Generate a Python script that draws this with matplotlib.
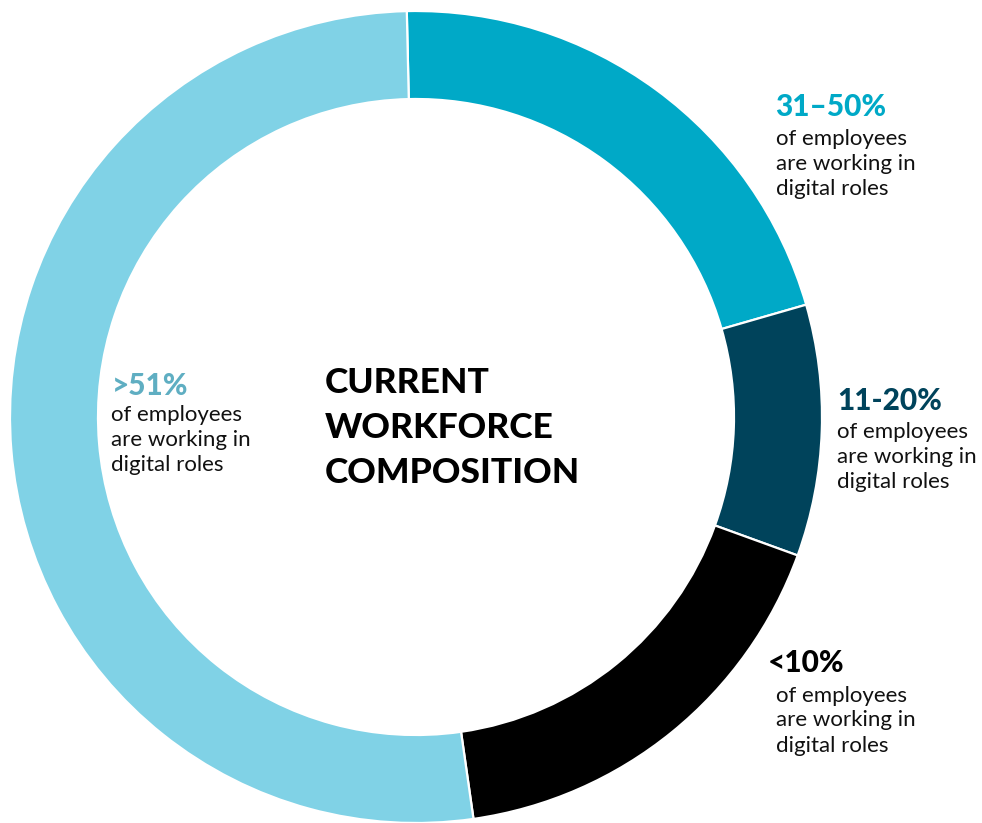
import matplotlib
matplotlib.use("Agg")
import matplotlib.pyplot as plt

# Share of companies by proportion of employees in digital roles
categories = ["31–50%", "11-20%", "<10%", ">51%"]
values = [20.9, 10.0, 17.2, 51.9]
colors = ["#00A9C7", "#00435B", "#000000", "#80D2E6"]
label_colors = ["#00A9C7", "#00435B", "#000000", "#5FAEC2"]
body_lines = ["of employees", "are working in", "digital roles"]
title_lines = ["CURRENT", "WORKFORCE", "COMPOSITION"]

W, H = 982, 823
fig = plt.figure(figsize=(W / 100, H / 100), dpi=100)
ax = fig.add_axes([0, 0, 1, 1])

font = "Lato"

cx, cy = 416, H - 417
R = 406
ax.pie(values, colors=colors, startangle=91.3, counterclock=False,
       center=(cx, cy), radius=R, frame=True,
       wedgeprops=dict(width=88, edgecolor="white", linewidth=1.6))
ax.set_xlim(0, W)
ax.set_ylim(0, H)
ax.axis("off")

# label anchors: (x of heading, x of body, heading baseline, first body baseline)
anchors = [
    (775, 776, 116, 144.5),
    (837, 837, 410, 437.5),
    (768, 776, 672.5, 701.5),
    (112, 111, 394.5, 421),
]
step = 25
for cat, col, (hx, bx, hy, by) in zip(categories, label_colors, anchors):
    ax.text(hx, H - hy, cat, color=col, fontsize=21.5, fontweight="black",
            family=font, ha="left", va="baseline")
    for i, line in enumerate(body_lines):
        ax.text(bx, H - (by + i * step), line, color="#111111", fontsize=16,
                family=font, ha="left", va="baseline")

for i, line in enumerate(title_lines):
    ax.text(325, H - (393 + i * 45), line, color="#000000", fontsize=25.5,
            fontweight="black", family=font, ha="left", va="baseline")

fig.savefig("out.png", dpi=100, facecolor="white")
